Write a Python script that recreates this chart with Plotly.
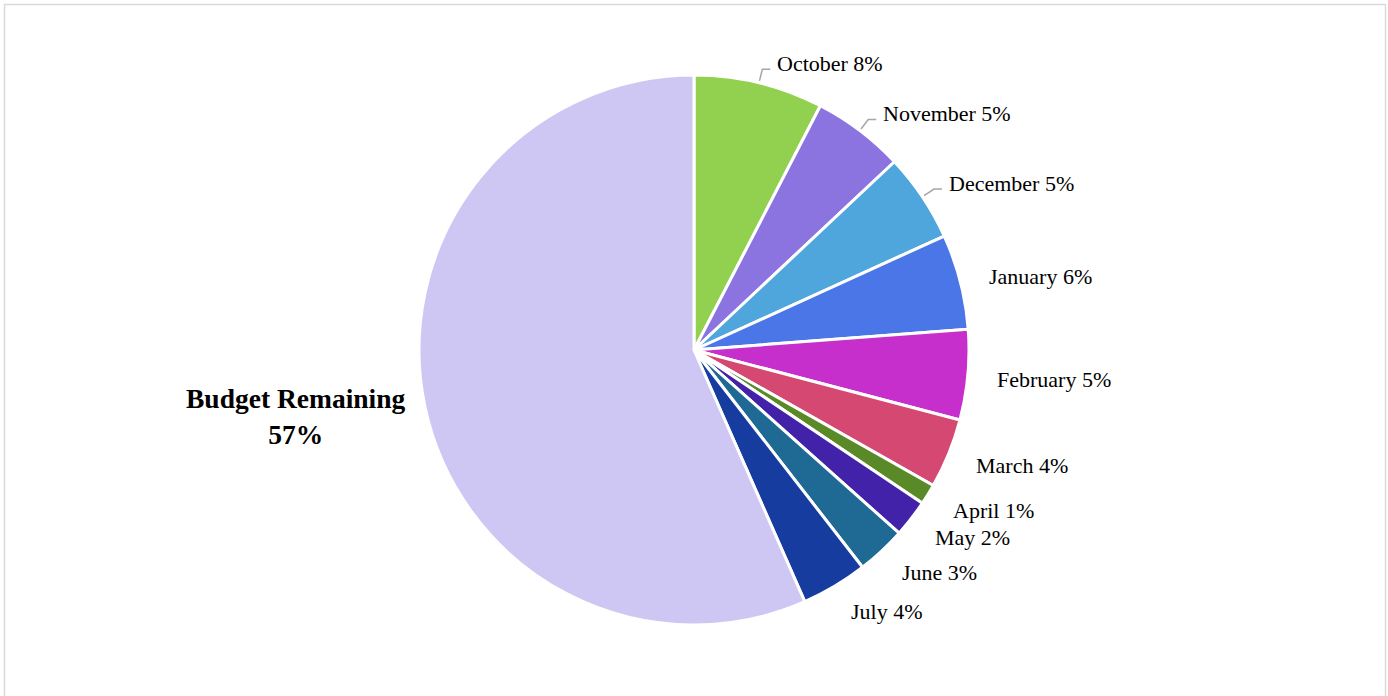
import math
import plotly.graph_objects as go

labels = ["October", "November", "December", "January", "February", "March",
          "April", "May", "June", "July", "Budget Remaining"]
values = [7.6, 5.4, 5.2, 5.6, 5.3, 4.1, 1.2, 2.2, 2.9, 3.9, 56.6]
colors = ["#92D050", "#8B73E0", "#4FA6DC", "#4A76E8", "#C62FCB", "#D54872",
          "#5A8A28", "#4222A8", "#1F6A95", "#173CA0", "#CFC7F3"]
leader = [True, True, True, False, False, False, False, False, False, False, False]

W, H = 1388, 696
cx, cy, R = 694, 350, 275

fig = go.Figure(go.Pie(
    labels=labels, values=values, sort=False, direction="clockwise", rotation=0,
    marker=dict(colors=colors, line=dict(color="white", width=3)),
    textinfo="none", hoverinfo="label+percent", showlegend=False,
    domain=dict(x=[(cx - R) / W, (cx + R) / W], y=[(H - cy - R) / H, (H - cy + R) / H]),
))

total = sum(values)
cum = 0.0
annotations = []
shapes = []
for lab, v, lead in zip(labels, values, leader):
    mid = (cum + v / 2) / total * 2 * math.pi
    cum += v
    pct = round(v / total * 100)
    s, c = math.sin(mid), math.cos(mid)
    if lab == "Budget Remaining":
        x, y = cx + 292 * s, cy - 292 * c + 6
        annotations.append(dict(x=x / W, y=1 - y / H, xref="paper", yref="paper",
                                text=f"<b>{lab}<br>{pct}%</b>", showarrow=False,
                                xanchor="right", yanchor="middle", align="center",
                                font=dict(family="Liberation Serif", size=27.5, color="black")))
        continue
    if lead:
        ex, ey = cx + (R + 2) * s, cy - (R + 2) * c
        bx, by = cx + 289 * s, cy - 289 * c
        hx = bx + 8
        shapes.append(dict(type="path", xref="paper", yref="paper",
                           path=f"M {ex / W},{1 - ey / H} L {bx / W},{1 - by / H} L {hx / W},{1 - by / H}",
                           line=dict(color="#A6A6A6", width=1.5)))
        x, y = hx + 5, by - 6
    else:
        x, y = cx + 302 * s, cy - 302 * c + 2
    annotations.append(dict(x=x / W, y=1 - y / H, xref="paper", yref="paper",
                            text=f"{lab} {pct}%", showarrow=False,
                            xanchor="left", yanchor="middle",
                            font=dict(family="Liberation Serif", size=22, color="black")))

shapes.append(dict(type="rect", xref="paper", yref="paper",
                   x0=4.5 / W, x1=1385.5 / W, y0=-0.01, y1=1 - 4.5 / H,
                   line=dict(color="#D9D9D9", width=1.5), fillcolor="rgba(0,0,0,0)"))

fig.update_layout(
    width=W, height=H, margin=dict(l=0, r=0, t=0, b=0),
    paper_bgcolor="white", plot_bgcolor="white",
    annotations=annotations, shapes=shapes,
)
fig.write_html("out.html", config={"displayModeBar": False},
               post_script="document.body.style.margin='0';")
